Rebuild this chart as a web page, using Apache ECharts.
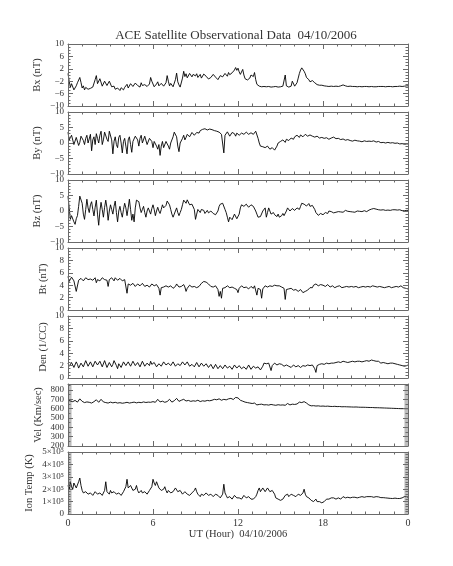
<!DOCTYPE html>
<html><head><meta charset="utf-8">
<script src="https://cdn.jsdelivr.net/npm/echarts@6/dist/echarts.min.js"></script>
<style>html,body{margin:0;padding:0;background:#fff}#c{width:453px;height:566px}</style>
</head><body><div id="c"></div><script>
// ---------------- data ----------------
const chartTitle = 'ACE Satellite Observational Data  04/10/2006';
const xAxisName = 'UT (Hour)  04/10/2006';
const xMajorTicks = [0, 6, 12, 18, 24];
const xTickLabels = ['0', '6', '12', '18', '0'];
const xMinorTicks = [1,2,3,4,5,7,8,9,10,11,13,14,15,16,17,19,20,21,22,23];

// magnetic field & plasma: one value every 5 minutes, 00:00 .. 24:00
const bx = [
 0.5,-2.0,-4.0,-2.8,-3.0,-4.8,-4.6,-3.5,-2.5,-3.0,-0.8,-2.4,
 -4.2,-3.5,-4.8,-4.0,-4.0,-4.6,-5.0,-4.3,-4.5,-3.9,-3.8,-1.5,
 -0.2,-2.8,-3.0,-1.2,-1.5,-3.6,-3.5,-2.0,-1.8,-3.4,-3.2,-2.0,
 -2.5,-3.8,-4.0,-3.6,-4.6,-4.9,-4.2,-4.7,-5.0,-4.1,-4.4,-4.8,
 -4.0,-3.6,-3.0,-4.2,-3.8,-2.8,-2.8,-3.7,-3.5,-2.6,-2.2,-3.4,
 -3.2,-3.9,-2.5,-3.4,-3.8,-3.1,-2.8,-3.7,-3.6,-2.9,-0.8,-2.0,
 -2.6,-3.8,-3.4,-2.9,-2.2,-3.5,-3.8,-2.7,-2.6,-3.6,-3.2,-2.5,
 -0.2,-2.0,-3.5,-2.7,-3.0,-3.8,-3.6,-1.5,0.6,-2.2,-3.2,-3.9,
 -3.6,-1.0,1.2,-0.5,0.4,-0.9,-0.4,0.5,0.8,-0.6,0.2,-0.2,
 -0.3,0.4,-0.8,-0.2,0.2,-1.0,-0.6,0.3,0.6,-0.4,-0.9,-1.3,
 -1.6,-0.8,-1.2,0.2,0.6,-0.7,-0.5,-1.5,-1.4,-0.2,0.3,-0.6,
 -0.3,0.5,0.6,-0.4,0.8,0.1,-0.2,0.7,1.0,1.6,2.4,1.5,
 2.2,1.0,0.2,0.6,1.8,0.0,-1.2,-0.8,-1.6,-1.8,-1.0,0.0,
 0.4,-0.5,0.8,-1.5,-3.0,-3.5,-3.6,-3.9,-3.8,-3.6,-3.7,-3.9,
 -3.8,-3.9,-3.7,-3.8,-3.9,-3.7,-3.8,-3.9,-3.7,-3.8,-3.9,-3.7,
 -3.8,-3.9,-3.6,-3.7,0.0,-3.5,-3.8,-3.9,-3.7,-3.6,-2.0,-1.6,
 -3.6,-3.0,-2.5,-1.0,0.5,1.6,2.3,1.7,1.2,0.4,-0.8,-1.4,
 -1.5,-2.2,-2.6,-1.8,-1.2,-2.5,-3.0,-3.1,-3.2,-3.3,-3.4,-3.3,
 -3.6,-3.5,-3.7,-3.6,-3.6,-3.7,-3.5,-3.6,-3.8,-3.7,-3.7,-3.6,
 -3.6,-3.7,-3.7,-3.5,-3.3,-3.2,-3.2,-3.5,-3.6,-3.7,-3.7,-3.6,
 -3.8,-3.7,-3.8,-3.7,-3.7,-3.8,-3.6,-3.7,-3.7,-3.8,-3.7,-3.7,
 -3.8,-3.7,-3.7,-3.8,-3.8,-3.7,-3.8,-3.8,-3.7,-3.8,-3.8,-3.7,
 -3.4,-3.7,-3.8,-3.7,-3.7,-3.8,-3.8,-3.7,-3.6,-3.7,-3.7,-3.8,
 -3.8,-3.7,-3.6,-3.7,-3.7,-3.6,-3.5,-3.7,-3.7,-3.6,-3.4,-3.5,
 -3.5];

const by = [
 3.5,1.0,0.5,2.5,2.0,-0.5,-1.0,1.8,1.5,-0.8,0.2,2.2,
 2.0,0.8,-0.5,1.5,2.5,0.0,0.5,2.8,-2.5,1.0,2.0,-0.5,
 3.0,1.5,0.0,2.5,3.8,-0.5,1.0,3.5,4.0,1.2,0.5,3.8,
 4.2,1.0,-3.5,0.5,2.0,-0.5,-1.5,1.8,2.5,0.0,-3.2,0.5,
 1.5,-1.0,-3.5,1.0,2.0,-0.5,-3.0,0.5,1.0,2.2,2.5,1.0,
 -1.0,1.5,2.5,0.0,0.5,2.2,2.0,-0.5,-0.5,1.5,1.8,0.5,
 -1.5,0.5,1.0,-1.0,-2.0,-0.5,-4.0,-1.0,0.5,-1.5,-1.5,0.5,
 1.0,-1.0,-2.0,0.0,0.5,2.0,3.5,3.0,2.0,-1.0,-2.8,0.0,
 -0.5,1.5,2.5,1.0,1.8,2.8,3.0,2.0,2.2,3.4,3.2,2.5,
 3.0,3.4,3.6,3.2,4.0,3.8,4.4,4.2,4.6,4.4,4.2,4.5,
 4.5,4.2,4.3,4.0,4.0,3.7,3.8,3.5,3.5,3.0,2.8,3.2,
 -3.2,2.5,3.0,3.6,3.5,2.2,2.5,3.4,3.8,3.0,2.2,3.2,
 3.4,2.5,2.0,3.2,3.6,2.8,3.0,3.5,3.8,2.8,2.5,3.3,
 3.5,2.8,3.2,3.8,3.6,1.5,0.0,-1.0,-1.5,-1.2,-0.8,-1.5,
 -1.8,-1.0,-1.2,-2.0,-2.5,-1.5,-1.6,-2.3,-2.2,-1.0,0.0,-0.5,
 0.5,0.0,1.0,0.5,0.2,1.2,1.5,0.8,1.0,1.6,1.8,1.2,
 2.0,1.5,2.5,2.0,1.8,2.6,2.6,2.0,2.2,2.8,2.5,2.2,
 2.3,2.6,2.0,2.2,2.4,1.9,1.8,2.2,2.0,1.6,1.5,1.8,
 1.8,1.5,1.4,1.7,1.6,1.2,1.2,1.6,1.5,1.9,1.8,1.4,
 1.2,1.5,1.4,1.1,1.0,1.3,1.2,0.9,0.8,1.1,1.0,0.8,
 0.8,0.6,0.6,0.9,1.0,0.7,0.5,0.6,0.7,0.4,0.4,0.7,
 0.6,0.5,0.8,0.6,0.4,0.5,0.5,0.7,0.6,0.3,0.3,0.5,
 0.5,0.1,-0.2,0.2,0.2,0.0,0.0,0.2,0.3,0.0,-0.1,0.1,
 0.0,-0.1,-0.2,0.0,-0.1,-0.3,-0.3,-0.2,-0.2,-0.4,-0.4,-0.3,
 -0.3];

const bz = [
 4.8,1.0,-2.7,-1.5,-2.0,-3.5,-4.3,-2.5,-1.5,1.5,4.8,4.2,
 2.5,-1.0,-2.7,0.5,3.8,1.0,-0.5,2.0,3.0,0.5,-1.6,1.2,
 3.5,-1.0,-4.6,0.0,2.8,0.5,-2.0,1.2,3.5,1.0,-3.0,0.0,
 2.0,0.5,-1.0,1.5,3.2,-0.5,-3.5,0.0,1.5,-0.5,-2.0,0.5,
 2.5,1.0,-1.5,1.0,3.8,0.5,-3.0,-1.0,-3.5,1.0,3.5,3.2,
 3.0,1.0,-0.5,0.5,1.5,-0.5,-2.0,0.0,1.0,0.0,-1.0,0.8,
 2.0,0.5,-1.5,0.0,1.2,0.0,-0.8,0.5,2.0,1.0,0.5,1.8,
 3.2,2.8,2.0,0.5,-1.0,-2.0,-2.0,0.0,1.0,-0.5,-1.5,-0.5,
 0.5,2.0,3.5,3.0,2.5,3.6,3.2,2.0,1.5,2.2,2.8,0.5,
 -2.7,-1.0,0.5,0.0,-0.5,0.5,1.0,0.2,-0.8,-0.2,0.2,-0.6,
 -1.0,0.0,0.5,-0.8,-0.5,-1.2,-1.5,0.0,1.5,2.2,2.7,2.5,
 2.2,0.5,-0.5,-2.0,-3.5,-2.0,-1.5,-2.8,-2.5,-1.0,-0.5,-2.5,
 -3.0,-1.0,1.0,2.0,2.2,1.5,1.5,2.2,2.0,1.2,1.6,2.0,
 2.0,1.5,1.2,0.0,-1.0,-2.0,-2.2,-1.8,-1.5,0.0,0.5,1.0,
 -2.0,-0.5,1.0,0.0,-1.0,-0.5,-0.5,-1.2,-1.5,-1.8,-1.0,-2.0,
 -2.0,-1.5,-0.8,-1.5,-1.2,0.0,1.0,0.5,0.0,0.5,0.8,0.2,
 0.2,0.8,1.0,0.5,0.5,1.5,2.5,2.0,2.2,2.6,1.6,1.2,
 2.4,1.5,1.0,1.8,1.8,0.5,-0.5,-1.0,-1.4,-0.8,-0.8,-1.2,
 -1.2,-0.8,-0.5,-0.9,-0.8,0.0,0.5,-0.2,-0.3,-0.6,-0.9,-0.4,
 -0.5,-0.2,0.2,-0.3,-0.6,-0.4,-0.2,0.2,0.3,-0.1,-0.4,-0.2,
 -0.6,-0.3,-0.1,-0.4,-0.3,0.0,0.2,-0.1,-0.4,-0.2,0.0,0.1,
 0.1,-0.2,-0.3,0.3,0.8,0.6,1.0,0.8,0.5,0.6,0.3,0.4,
 0.4,0.3,0.2,0.4,0.3,0.2,0.1,0.3,0.4,0.2,0.3,0.4,
 0.2,0.4,0.5,0.3,0.3,0.4,0.4,0.1,-0.2,0.1,0.3,0.2,
 0.2];

const bt = [
 5.4,4.6,4.8,5.3,5.2,4.7,4.6,3.0,3.0,4.8,4.9,5.1,
 5.0,4.7,4.8,5.2,5.2,4.9,4.7,5.0,5.1,4.8,4.9,5.2,
 4.4,4.9,5.0,4.7,4.8,5.2,5.1,4.9,4.6,4.8,3.8,4.9,
 5.0,5.2,4.9,4.7,5.2,5.0,4.8,5.1,5.1,4.9,4.7,5.0,
 4.9,4.6,2.7,4.2,4.5,4.0,3.9,4.3,4.3,3.8,4.0,4.2,
 4.2,3.9,3.8,4.3,4.4,3.8,3.6,4.0,4.1,3.7,3.9,4.2,
 4.3,3.9,3.7,4.1,4.0,3.5,2.4,3.6,3.9,3.7,3.5,3.9,
 4.0,3.7,3.6,3.9,3.9,3.5,3.4,3.8,4.2,3.9,3.7,3.9,
 3.8,4.0,4.1,3.7,3.0,3.5,3.8,4.0,4.0,3.7,3.6,3.8,
 3.9,3.6,3.5,3.8,4.0,4.3,4.5,4.6,4.7,4.5,4.3,4.2,
 4.1,3.8,3.9,3.7,3.6,3.9,3.9,3.3,2.2,3.0,1.9,3.5,
 3.8,3.6,3.5,3.9,3.9,3.6,3.4,3.7,3.8,3.5,3.5,3.3,
 2.8,3.5,3.7,3.9,3.9,3.6,3.4,3.7,3.8,3.4,3.5,3.8,
 3.7,3.5,3.9,3.6,2.4,3.5,3.8,3.3,1.9,3.4,3.7,3.9,
 3.9,3.7,3.6,3.9,4.0,3.8,3.8,4.0,4.1,3.9,3.7,3.9,
 3.9,3.7,3.8,3.5,1.7,3.3,3.6,3.4,3.2,3.5,3.5,3.2,
 3.1,3.3,3.4,3.0,2.9,3.3,3.2,2.8,2.6,3.0,3.0,3.2,
 3.3,3.6,3.8,3.6,4.0,4.2,4.2,3.9,3.9,4.2,4.1,3.9,
 4.0,3.8,3.8,4.1,4.1,3.8,3.7,3.9,3.9,3.7,3.6,3.8,
 3.8,3.7,3.9,3.8,3.6,3.7,3.7,3.9,3.8,3.6,3.7,3.8,
 3.8,3.7,3.7,3.8,3.8,3.6,3.6,3.7,3.7,3.8,3.8,3.7,
 3.7,3.8,3.8,3.7,3.7,3.8,3.9,3.7,3.8,3.7,3.7,3.8,
 3.8,3.7,3.7,3.8,3.6,3.7,3.7,3.8,3.8,3.6,3.6,3.7,
 3.7,3.8,3.8,3.6,3.7,3.9,3.9,3.7,3.6,3.6,3.5,3.6,
 3.4];

const den = [
 2.4,1.9,1.6,2.5,2.6,1.7,1.8,2.6,2.2,1.6,1.5,2.4,
 2.7,1.8,2.0,2.8,2.9,1.9,1.7,2.6,2.5,1.8,2.1,2.7,
 2.8,2.1,1.9,2.7,2.6,1.8,2.0,2.8,2.7,1.7,1.6,2.5,
 2.5,1.8,2.2,2.8,2.9,2.0,1.5,2.3,2.4,1.7,2.0,2.6,
 2.7,2.0,1.8,2.6,2.5,1.9,2.3,2.7,2.8,2.0,1.7,2.5,
 2.4,1.8,2.0,2.7,2.6,1.9,1.6,2.4,2.3,2.0,2.7,2.2,
 2.1,2.5,2.6,1.8,1.7,2.3,2.4,1.9,2.0,2.6,2.8,2.1,
 1.9,2.4,2.5,2.0,2.2,2.6,2.7,1.9,1.8,2.3,2.4,2.0,
 2.2,2.6,2.8,2.1,2.0,2.6,2.5,1.9,1.7,2.2,2.3,1.8,
 2.1,2.5,2.4,1.8,1.9,2.4,2.3,1.9,2.0,2.3,2.2,1.7,
 1.8,2.2,2.3,1.5,1.6,2.2,2.1,1.5,1.4,2.0,2.0,1.5,
 1.7,2.1,2.2,1.6,1.3,1.9,2.0,1.4,1.5,2.1,2.2,1.6,
 1.6,2.0,2.1,1.5,1.2,1.8,1.9,1.4,1.6,2.1,2.0,1.4,
 1.5,1.9,2.2,1.6,1.4,1.8,1.8,1.3,1.3,1.9,2.4,2.3,
 2.3,2.0,2.4,2.3,1.2,2.0,2.2,2.4,2.5,2.1,2.0,2.3,
 2.4,2.2,2.3,1.9,1.8,2.1,2.2,1.9,2.0,1.7,1.9,2.1,
 2.0,1.8,1.6,2.0,2.1,1.7,1.8,2.0,2.1,1.9,1.9,2.1,
 2.2,2.0,1.8,2.1,2.1,1.5,0.9,2.0,2.3,2.2,2.4,2.3,
 2.3,2.2,2.2,2.4,2.4,2.3,2.3,2.4,2.5,2.4,2.4,2.5,
 2.5,2.6,2.6,2.5,2.5,2.7,2.7,2.6,2.6,2.5,2.5,2.6,
 2.6,2.7,2.7,2.6,2.6,2.7,2.8,2.7,2.7,2.6,2.6,2.7,
 2.7,2.8,2.8,2.7,2.7,2.9,2.9,2.8,2.8,2.7,2.6,2.7,
 2.5,2.4,2.4,2.5,2.5,2.4,2.4,2.3,2.3,2.4,2.5,2.4,
 2.4,2.3,2.3,2.2,2.2,2.1,2.1,2.0,2.0,1.9,1.9,2.0,
 2.1];

// solar wind speed: one value every 10 minutes
const vel = [
 690,682,675,688,670,705,
 678,665,672,668,660,675,
 695,668,700,672,665,660,
 670,662,668,660,664,658,
 662,668,660,665,670,662,
 668,664,672,666,670,668,
 675,668,700,672,680,668,
 676,700,670,685,710,678,
 690,700,682,688,678,684,
 680,690,676,684,680,688,
 684,690,700,695,705,690,
 700,694,705,710,698,720,
 715,690,680,670,665,660,
 655,660,640,645,648,640,
 642,638,645,640,636,642,
 638,640,636,655,640,648,
 645,650,670,665,675,660,
 640,630,632,628,630,626,
 628,625,627,624,623,625,
 622,623,620,621,620,619,
 618,617,618,616,615,615,
 614,613,612,612,610,610,
 609,608,607,606,605,604,
 603,602,601,600,600,600,
 600];

// ion temperature in units of 1e5 K, every 5 minutes
const ionTemp = [
 2.3,2.0,2.6,2.2,2.0,2.5,2.4,2.1,2.2,2.6,2.9,2.3,
 1.9,1.7,1.7,1.8,1.8,1.6,1.5,1.7,1.7,1.5,1.6,1.8,
 1.8,1.6,1.5,1.7,1.7,1.5,1.6,1.9,2.6,1.8,1.7,1.6,
 1.9,1.7,1.6,1.8,1.8,1.6,1.5,1.7,1.7,1.5,1.6,1.8,
 1.8,2.2,2.8,2.1,2.0,2.3,2.2,1.9,1.8,2.0,2.3,1.9,
 1.7,1.8,1.9,1.7,1.6,1.8,1.8,1.6,1.7,1.9,1.9,2.2,
 2.8,2.5,2.3,2.6,2.5,2.1,2.0,1.9,1.8,2.0,2.2,1.9,
 1.7,1.9,2.0,1.7,1.6,1.8,1.9,2.1,2.2,1.8,1.7,1.9,
 1.8,1.6,1.6,1.8,1.9,1.6,1.7,1.5,1.5,1.7,1.8,1.9,
 2.1,1.8,1.6,1.5,1.4,1.6,1.6,1.5,1.5,1.7,1.7,1.5,
 1.5,1.6,1.6,1.4,1.4,1.6,1.7,1.5,1.5,1.3,1.3,1.6,
 2.4,1.7,1.5,1.3,1.2,1.4,1.4,1.2,1.3,1.5,1.5,1.3,
 1.2,1.3,1.4,1.2,1.3,1.5,1.5,1.3,1.2,1.4,1.4,1.2,
 1.3,1.2,1.2,1.4,1.6,1.9,2.1,1.8,1.8,2.1,2.0,1.8,
 1.9,2.1,2.1,1.8,1.7,1.9,1.9,1.6,1.3,1.2,1.2,1.1,
 1.1,1.2,1.2,1.3,1.5,1.6,1.6,1.4,1.4,1.6,1.6,1.5,
 1.5,1.4,1.4,1.6,1.6,1.5,1.5,1.7,2.0,1.6,1.4,1.3,
 1.3,1.2,1.1,1.0,1.0,1.1,1.2,1.0,0.95,1.0,1.0,0.9,
 0.9,1.0,1.1,1.2,1.3,1.2,1.2,1.3,1.4,1.3,1.25,1.2,
 1.2,1.3,1.3,1.2,1.25,1.4,1.45,1.3,1.3,1.35,1.35,1.3,
 1.3,1.35,1.4,1.35,1.35,1.3,1.3,1.35,1.35,1.4,1.4,1.35,
 1.4,1.4,1.35,1.4,1.45,1.4,1.4,1.35,1.35,1.4,1.4,1.38,
 1.35,1.32,1.3,1.32,1.32,1.3,1.3,1.28,1.28,1.26,1.25,1.25,
 1.25,1.28,1.3,1.25,1.22,1.25,1.25,1.3,1.35,1.4,1.45,1.4,
 1.35];

// sampling interval (hours) of each series
const seriesStep = [1/12, 1/12, 1/12, 1/12, 1/12, 1/6, 1/12];

// data-gap (shaded) intervals, hours, for the plasma panels
const gapRanges = [[0, 0.25], [23.75, 24]];

const yNames = ['Bx (nT)', 'By (nT)', 'Bz (nT)', 'Bt (nT)', 'Den (1/CC)', 'Vel (Km/sec)', 'Ion Temp (K)'];
const yMin = [-10, -10, -10, 0, 0, 200, 0];
const yMax = [10, 10, 10, 10, 10, 864, 5];
const yMajorTicks = [
 [-10, -6, -2, 2, 6, 10],
 [-10, -5, 0, 5, 10],
 [-10, -5, 0, 5, 10],
 [0, 2, 4, 6, 8, 10],
 [0, 2, 4, 6, 8, 10],
 [200, 300, 400, 500, 600, 700, 800],
 [0, 1, 2, 3, 4, 5]
];
const yMinorStep = [1, 1, 1, 0.5, 0.5, 50, 0.2];
const seriesData = [bx, by, bz, bt, den, vel, ionTemp];
const shaded = [false, false, false, false, false, true, true];

// ---------------- layout / style ----------------
const FONT = 'Liberation Serif';
const TXT = '#333';
const AX = '#6a6a6a';
const gridTops = [44, 112, 180, 248, 316, 384, 452];
const gridH = 62, gridL = 68, gridW = 340;
const nameGaps = [25, 25.5, 25.5, 19, 19, 24, 33];

function minorList(min, max, step, majors) {
  const out = [];
  for (let v = min; v <= max + 1e-9; v += step) {
    const r = +v.toFixed(4);
    if (!majors.some(m => Math.abs(m - r) < 1e-6)) out.push(r);
  }
  return out;
}
function yFmt(i) {
  return function (v) {
    if (i === 6) return v === 0 ? '0' : v + '×10⁵';
    return v < 0 ? '\u2212' + Math.abs(v) : String(v);
  };
}

const grid = [], xAxis = [], yAxis = [], series = [];
for (let i = 0; i < 7; i++) {
  grid.push({ left: gridL, top: gridTops[i], width: gridW, height: gridH, containLabel: false });
  const lineStyle = { color: AX, width: 1 };
  const baseX = { gridIndex: i, type: 'value', min: 0, max: 24, splitLine: { show: false }, z: 5 };
  ['bottom', 'top'].forEach(pos => {
    xAxis.push(Object.assign({}, baseX, {
      position: pos,
      axisLine: { show: true, onZero: false, lineStyle },
      axisTick: { show: true, inside: true, length: 5, customValues: xMajorTicks, lineStyle },
      axisLabel: {
        show: pos === 'bottom' && i === 6, customValues: xMajorTicks, margin: 4,
        fontFamily: FONT, fontSize: 10, color: TXT,
        formatter: v => xTickLabels[xMajorTicks.indexOf(v)]
      },
      name: (pos === 'bottom' && i === 6) ? xAxisName : '',
      nameLocation: 'middle', nameGap: 15, nameMoveOverlap: false,
      nameTextStyle: { fontFamily: FONT, fontSize: 10.5, color: TXT }
    }));
    xAxis.push(Object.assign({}, baseX, {
      position: pos,
      axisLine: { show: false, onZero: false },
      axisTick: { show: true, inside: true, length: 2.5, customValues: xMinorTicks, lineStyle },
      axisLabel: { show: false }
    }));
  });
  const minors = minorList(yMin[i], yMax[i], yMinorStep[i], yMajorTicks[i]);
  const baseY = { gridIndex: i, type: 'value', min: yMin[i], max: yMax[i], splitLine: { show: false }, z: 5 };
  ['left', 'right'].forEach(pos => {
    yAxis.push(Object.assign({}, baseY, {
      position: pos,
      axisLine: { show: true, onZero: false, lineStyle },
      axisTick: { show: true, inside: true, length: 5, customValues: yMajorTicks[i], lineStyle },
      axisLabel: {
        show: pos === 'left', customValues: yMajorTicks[i], margin: 4,
        fontFamily: FONT, fontSize: 9, color: TXT, formatter: yFmt(i)
      },
      name: pos === 'left' ? yNames[i] : '',
      nameLocation: 'middle', nameGap: nameGaps[i], nameMoveOverlap: false,
      nameTextStyle: { fontFamily: FONT, fontSize: 10.5, color: TXT }
    }));
    yAxis.push(Object.assign({}, baseY, {
      position: pos,
      axisLine: { show: false, onZero: false },
      axisTick: { show: true, inside: true, length: 2.5, customValues: minors, lineStyle },
      axisLabel: { show: false }
    }));
  });
  const s = {
    type: 'line', xAxisIndex: i * 4, yAxisIndex: i * 4,
    data: seriesData[i].map((v, k) => [k * seriesStep[i], v]),
    showSymbol: false, symbol: 'none', silent: true,
    lineStyle: { color: '#000', width: 0.9 }, z: 3
  };
  if (shaded[i]) {
    s.markArea = {
      silent: true, itemStyle: { color: '#bdbdbd' },
      data: gapRanges.map(r => [{ xAxis: r[0] }, { xAxis: r[1] }])
    };
  }
  series.push(s);
}

const chart = echarts.init(document.getElementById('c'), null, { renderer: 'canvas' });
chart.setOption({
  animation: false,
  backgroundColor: '#fff',
  grid, xAxis, yAxis, series,
  graphic: [{
    type: 'text', x: 236, y: 36,
    style: { text: chartTitle, fontFamily: FONT, fontSize: 13, fill: TXT, textAlign: 'center', textVerticalAlign: 'middle' }
  }]
});
</script></body></html>
